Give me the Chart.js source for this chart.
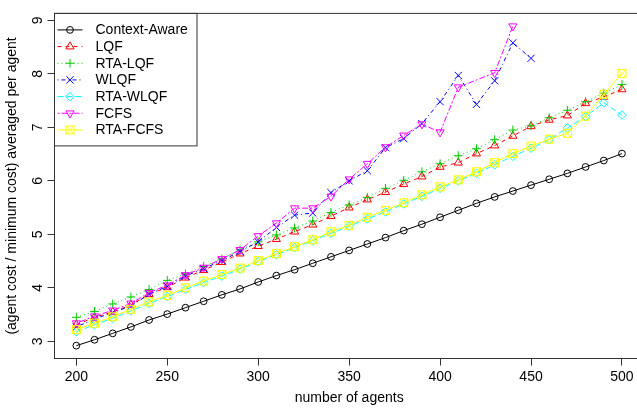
<!DOCTYPE html>
<html>
<head>
<meta charset="utf-8">
<script src="https://cdn.jsdelivr.net/npm/chart.js@4"></script>
<style>
html, body { margin: 0; padding: 0; background: #fff; overflow: hidden; }
#wrap { position: absolute; left: 0; top: 0; width: 650px; height: 408px; }
</style>
</head>
<body>
<div id="wrap"><canvas id="chart" width="650" height="408"></canvas></div>
<script>
// values
let agents = [200,210,220,230,240,250,260,270,280,290,300,310,320,330,340,350,
              360,370,380,390,400,410,420,430,440,450,460,470,480,490,500];

let contextAware = [2.92,3.03,3.15,3.27,3.40,3.51,3.63,3.75,3.87,3.98,4.11,4.23,4.34,4.46,4.58,4.70,
                    4.82,4.94,5.07,5.19,5.32,5.45,5.58,5.70,5.81,5.92,6.03,6.14,6.26,6.38,6.51];
let lqf = [3.31,3.45,3.55,3.68,3.88,4.01,4.19,4.33,4.48,4.64,4.78,4.91,5.05,5.18,5.34,5.50,
           5.65,5.79,5.94,6.08,6.26,6.34,6.51,6.66,6.84,7.02,7.14,7.22,7.45,7.57,7.71];
let rtaLqf = [3.45,3.56,3.70,3.83,3.97,4.14,4.26,4.40,4.54,4.71,4.86,4.99,5.12,5.25,5.41,5.55,
              5.69,5.86,6.01,6.17,6.32,6.47,6.60,6.77,6.95,7.03,7.18,7.32,7.48,7.64,7.80];
let wlqf = [3.27,3.42,3.54,3.66,3.88,4.03,4.22,4.36,4.51,4.68,4.86,5.13,5.36,5.40,5.78,6.00,
            6.19,6.62,6.79,7.07,7.48,7.97,7.43,7.87,8.58,8.29,null,null,null,null,null];
let rtaWlqf = [3.18,3.31,3.43,3.57,3.71,3.84,3.97,4.10,4.22,4.35,4.49,4.62,4.75,4.88,5.02,5.15,
               5.29,5.42,5.57,5.71,5.86,6.00,6.14,6.30,6.46,6.61,6.77,6.99,7.20,7.46,7.23];
let fcfs = [3.34,3.47,3.58,3.71,3.91,4.05,4.24,4.38,4.54,4.71,4.97,5.21,5.49,5.49,5.71,6.03,
            6.32,6.63,6.85,7.06,6.91,7.75,null,8.02,8.89,null,null,null,null,null,null];
let rtaFcfs = [3.22,3.34,3.46,3.60,3.74,3.86,4.00,4.13,4.25,4.37,4.51,4.64,4.77,4.90,5.05,5.17,
               5.32,5.45,5.59,5.74,5.89,6.02,6.17,6.34,6.51,6.65,6.78,6.89,7.21,7.62,8.01];

let seriesNames = ["Context-Aware","LQF","RTA-LQF","WLQF","RTA-WLQF","FCFS","RTA-FCFS"];
let xTicks = [200,250,300,350,400,450,500];
let yTicks = [3,4,5,6,7,8,9];

let font = { family: "'Liberation Sans', Arial, sans-serif", size: 14 };

// square with an x inside, like R's pch 7
function boxTimes(color) {
    let c = document.createElement("canvas");
    c.width = 11; c.height = 11;
    let g = c.getContext("2d");
    g.strokeStyle = color;
    g.lineWidth = 1;
    g.strokeRect(1.5, 1.5, 8, 8);
    g.beginPath();
    g.moveTo(1.5, 1.5); g.lineTo(9.5, 9.5);
    g.moveTo(9.5, 1.5); g.lineTo(1.5, 9.5);
    g.stroke();
    return c;
}

function points(vals) {
    let out = [];
    agents.forEach((a, i) => { if (vals[i] != null) out.push({ x: a, y: vals[i] }); });
    return out;
}

function series(i, vals, color, dash, style, radius, rot) {
    return {
        label: seriesNames[i],
        data: points(vals),
        borderColor: color,
        borderWidth: 1,
        borderDash: dash,
        pointStyle: style,
        pointRotation: rot || 0,
        pointRadius: radius,
        pointBorderColor: color,
        pointBackgroundColor: "rgba(0,0,0,0)",
        pointBorderWidth: 1,
        tension: 0,
        order: 7 - i
    };
}

let datasets = [
    series(0, contextAware, "#000000", [], "circle", 3.4),
    series(1, lqf, "#FF0000", [4, 4], "triangle", 4.7),
    series(2, rtaLqf, "#00CD00", [1, 3], "cross", 4.4),
    series(3, wlqf, "#0000FF", [1, 3, 4, 3], "crossRot", 5.1),
    series(4, rtaWlqf, "#00FFFF", [6, 3], "rectRot", 4.3),
    series(5, fcfs, "#FF00FF", [2, 2, 6, 2], "triangle", 4.7, 180),
    series(6, rtaFcfs, "#FFFF00", [], boxTimes("#FFFF00"), 4.5)
];

let frameBox = {
    id: "frameBox",
    afterDraw(chart) {
        let a = chart.chartArea, ctx = chart.ctx;
        ctx.save();
        ctx.strokeStyle = "#333";
        ctx.lineWidth = 1;
        ctx.strokeRect(a.left, a.top, a.right - a.left, a.bottom - a.top);
        ctx.restore();
    }
};

let legendBox = {
    id: "legendBox",
    afterDatasetsDraw(chart) {
        let ctx = chart.ctx;
        let x0 = chart.chartArea.left, y0 = chart.chartArea.top;
        ctx.save();
        ctx.fillStyle = "#fff";
        ctx.fillRect(x0, y0, 142.5, 132.5);
        ctx.strokeStyle = "#333";
        ctx.lineWidth = 1;
        ctx.strokeRect(x0, y0, 142.5, 132.5);
        chart.data.datasets.forEach((ds, i) => {
            let y = y0 + 16.5 + i * 16.67;
            ctx.strokeStyle = ds.borderColor;
            ctx.setLineDash(ds.borderDash);
            ctx.beginPath();
            ctx.moveTo(x0 + 3, y);
            ctx.lineTo(x0 + 28, y);
            ctx.stroke();
            ctx.setLineDash([]);
            ctx.fillStyle = "rgba(0,0,0,0)";
            Chart.helpers.drawPoint(ctx, {
                pointStyle: ds.pointStyle,
                rotation: ds.pointRotation,
                radius: ds.pointRadius,
                borderWidth: 1
            }, x0 + 15.5, y);
            ctx.fillStyle = "#000";
            ctx.font = font.size + "px " + font.family;
            ctx.textBaseline = "middle";
            ctx.textAlign = "left";
            ctx.fillText(ds.label, x0 + 41, y + 0.5);
        });
        ctx.restore();
    }
};

new Chart(document.getElementById("chart"), {
    type: "line",
    data: { datasets: datasets },
    options: {
        responsive: false,
        animation: false,
        layout: { padding: { top: 8.5, right: 6.2, left: 0, bottom: 0 } },
        plugins: { legend: { display: false }, tooltip: { enabled: false } },
        scales: {
            x: {
                type: "linear",
                min: 188, max: 512,
                afterBuildTicks: s => { s.ticks = xTicks.map(v => ({ value: v })); },
                afterFit: s => { s.height = 49.5; },
                grid: { drawOnChartArea: false, tickLength: 7, color: "#333" },
                border: { color: "#333" },
                ticks: { font: font, color: "#000", padding: 3, maxRotation: 0, autoSkip: false },
                title: { display: true, text: "number of agents", font: font, color: "#000",
                         padding: { top: 0, bottom: 1 } }
            },
            y: {
                type: "linear",
                min: 2.68, max: 9.13,
                afterBuildTicks: s => { s.ticks = yTicks.map(v => ({ value: v })); },
                afterFit: s => { s.width = 54.5; },
                grid: { drawOnChartArea: false, tickLength: 7, color: "#333" },
                border: { color: "#333" },
                ticks: { font: font, color: "#000", padding: 5, minRotation: 90, maxRotation: 90,
                         crossAlign: "center", autoSkip: false },
                title: { display: true, text: "(agent cost / minimum cost) averaged per agent",
                         font: font, color: "#000", padding: { top: 4, bottom: 0 } }
            }
        }
    },
    plugins: [frameBox, legendBox]
});
</script>
</body>
</html>
